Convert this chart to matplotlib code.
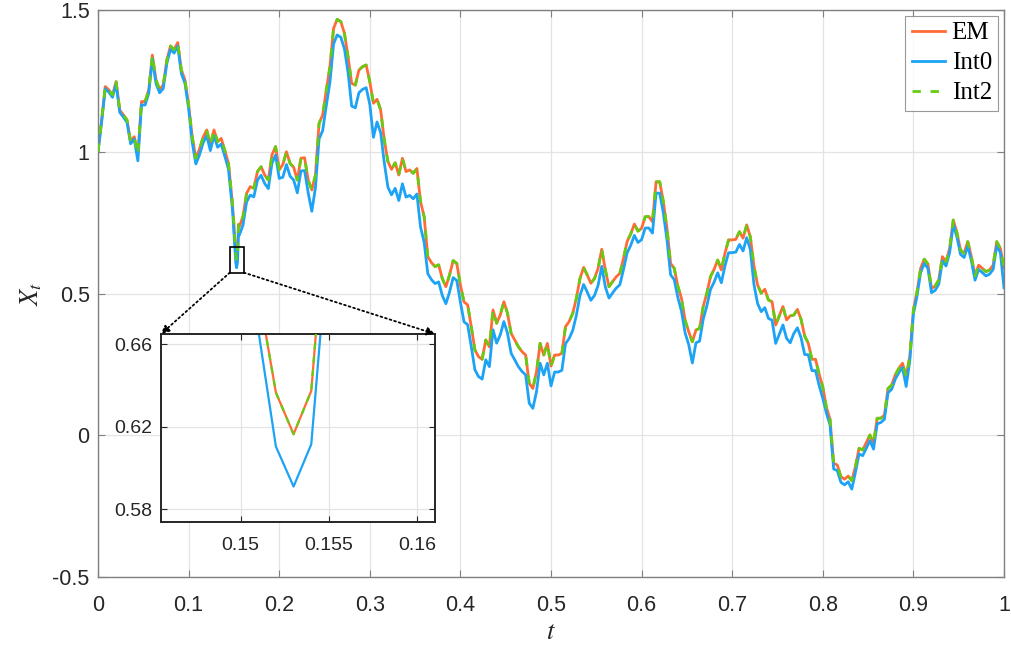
import numpy as np
import matplotlib
matplotlib.use("Agg")
import matplotlib.pyplot as plt
from matplotlib.patches import Rectangle, ConnectionPatch

plt.rcParams['font.family'] = ['Liberation Sans', 'DejaVu Sans']
plt.rcParams['mathtext.fontset'] = 'stix'

# ---------------- data ----------------
t_main = np.linspace(0.0, 1.0, 251)   # uniform time grid (step 0.004)

em = [1.000, 1.112, 1.230, 1.218, 1.200, 1.247, 1.147, 1.130, 1.112, 1.036,
      1.053, 0.990, 1.177, 1.177, 1.218, 1.341, 1.253, 1.220, 1.235, 1.324,
      1.373, 1.360, 1.385, 1.288, 1.253, 1.165, 1.053, 0.977, 1.009, 1.051,
      1.077, 1.024, 1.077, 1.036, 1.047, 1.004, 0.959, 0.830, 0.6365, 0.736,
      0.771, 0.853, 0.877, 0.871, 0.930, 0.947, 0.918, 0.900, 0.989, 1.018,
      0.936, 0.955, 1.000, 0.959, 0.945, 0.900, 0.977, 0.979, 0.900, 0.865,
      0.918, 1.100, 1.130, 1.218, 1.300, 1.435, 1.467, 1.459, 1.418, 1.335,
      1.241, 1.235, 1.288, 1.300, 1.306, 1.247, 1.171, 1.185, 1.147, 1.041,
      0.965, 0.938, 0.961, 0.918, 0.977, 0.930, 0.936, 0.924, 0.941, 0.824,
      0.771, 0.630, 0.609, 0.595, 0.601, 0.553, 0.524, 0.565, 0.616, 0.606,
      0.530, 0.470, 0.460, 0.383, 0.301, 0.277, 0.268, 0.336, 0.312, 0.442,
      0.395, 0.424, 0.471, 0.430, 0.359, 0.336, 0.312, 0.295, 0.283, 0.183,
      0.165, 0.224, 0.324, 0.283, 0.324, 0.244, 0.283, 0.283, 0.289, 0.383,
      0.401, 0.430, 0.483, 0.553, 0.592, 0.565, 0.536, 0.553, 0.589, 0.656,
      0.583, 0.524, 0.542, 0.559, 0.571, 0.624, 0.683, 0.710, 0.745, 0.720,
      0.730, 0.771, 0.771, 0.753, 0.894, 0.894, 0.824, 0.730, 0.606, 0.589,
      0.526, 0.483, 0.406, 0.365, 0.330, 0.371, 0.377, 0.454, 0.501, 0.559,
      0.585, 0.618, 0.583, 0.642, 0.689, 0.689, 0.691, 0.718, 0.695, 0.742,
      0.700, 0.597, 0.530, 0.501, 0.515, 0.477, 0.471, 0.389, 0.421, 0.454,
      0.407, 0.421, 0.424, 0.444, 0.409, 0.350, 0.324, 0.268, 0.268, 0.215,
      0.170, 0.098, 0.056, -0.099, -0.105, -0.146, -0.155, -0.144, -0.160, -0.111,
      -0.046, -0.052, -0.026, 0.001, -0.029, 0.060, 0.060, 0.071, 0.165, 0.177,
      0.213, 0.236, 0.254, 0.207, 0.277, 0.442, 0.506, 0.589, 0.621, 0.604,
      0.518, 0.526, 0.548, 0.630, 0.612, 0.659, 0.759, 0.715, 0.653, 0.642,
      0.683, 0.630, 0.562, 0.600, 0.589, 0.577, 0.583, 0.600, 0.683, 0.659,
      0.589]

int0 = [1.000, 1.104, 1.222, 1.210, 1.192, 1.239, 1.139, 1.122, 1.104, 1.028,
        1.045, 0.968, 1.165, 1.165, 1.206, 1.329, 1.241, 1.208, 1.223, 1.312,
        1.361, 1.348, 1.373, 1.276, 1.241, 1.153, 1.033, 0.957, 0.989, 1.031,
        1.057, 1.004, 1.057, 1.016, 1.027, 0.984, 0.939, 0.810, 0.6103, 0.706,
        0.741, 0.823, 0.847, 0.841, 0.900, 0.917, 0.888, 0.870, 0.959, 0.988,
        0.906, 0.910, 0.955, 0.914, 0.900, 0.855, 0.932, 0.934, 0.855, 0.790,
        0.873, 1.045, 1.075, 1.163, 1.245, 1.380, 1.412, 1.404, 1.363, 1.280,
        1.161, 1.155, 1.208, 1.220, 1.226, 1.167, 1.051, 1.105, 1.067, 0.961,
        0.875, 0.848, 0.871, 0.828, 0.887, 0.840, 0.846, 0.834, 0.851, 0.734,
        0.681, 0.570, 0.549, 0.535, 0.541, 0.493, 0.464, 0.505, 0.556, 0.546,
        0.470, 0.400, 0.390, 0.313, 0.231, 0.207, 0.198, 0.266, 0.242, 0.372,
        0.325, 0.354, 0.401, 0.360, 0.289, 0.266, 0.242, 0.225, 0.213, 0.113,
        0.095, 0.154, 0.254, 0.213, 0.254, 0.174, 0.223, 0.223, 0.229, 0.323,
        0.341, 0.370, 0.423, 0.493, 0.532, 0.505, 0.476, 0.493, 0.529, 0.596,
        0.523, 0.484, 0.502, 0.519, 0.531, 0.584, 0.643, 0.670, 0.705, 0.680,
        0.690, 0.731, 0.731, 0.713, 0.854, 0.854, 0.784, 0.690, 0.566, 0.549,
        0.486, 0.438, 0.361, 0.320, 0.255, 0.326, 0.332, 0.409, 0.456, 0.514,
        0.540, 0.573, 0.538, 0.597, 0.644, 0.644, 0.646, 0.673, 0.650, 0.697,
        0.655, 0.532, 0.465, 0.436, 0.450, 0.412, 0.406, 0.324, 0.356, 0.389,
        0.342, 0.326, 0.359, 0.379, 0.344, 0.285, 0.284, 0.228, 0.228, 0.175,
        0.130, 0.078, 0.036, -0.119, -0.125, -0.166, -0.175, -0.164, -0.190, -0.131,
        -0.066, -0.072, -0.046, -0.019, -0.049, 0.040, 0.045, 0.056, 0.150, 0.162,
        0.198, 0.221, 0.239, 0.172, 0.262, 0.427, 0.491, 0.574, 0.606, 0.589,
        0.503, 0.511, 0.533, 0.615, 0.597, 0.644, 0.744, 0.700, 0.638, 0.627,
        0.668, 0.615, 0.547, 0.585, 0.574, 0.562, 0.568, 0.585, 0.668, 0.644,
        0.520]

# Int2 coincides with EM at the resolution of the picture
int2 = list(em)

# fine-step values around the zoomed minimum (step 0.001)
t_fine = [0.149, 0.150, 0.151, 0.152, 0.153, 0.154, 0.155]
em_fine = [0.790, 0.745, 0.686, 0.6365, 0.6163, 0.6373, 0.743]
int0_fine = [0.770, 0.715, 0.667, 0.6103, 0.5909, 0.6114, 0.714]
int2_fine = [0.790, 0.745, 0.686, 0.6365, 0.6163, 0.6373, 0.743]

labels = ['EM', 'Int0', 'Int2']
colors = ['#FF6B35', '#1CA3F5', '#66CC11']

xticks = [0, 0.1, 0.2, 0.3, 0.4, 0.5, 0.6, 0.7, 0.8, 0.9, 1]
xticklabels = ['0', '0.1', '0.2', '0.3', '0.4', '0.5', '0.6', '0.7', '0.8', '0.9', '1']
yticks = [-0.5, 0, 0.5, 1, 1.5]
yticklabels = ['-0.5', '0', '0.5', '1', '1.5']
in_xticks = [0.15, 0.155, 0.16]
in_xticklabels = ['0.15', '0.155', '0.16']
in_yticks = [0.58, 0.62, 0.66]
in_yticklabels = ['0.58', '0.62', '0.66']
zoom_x = (0.1455, 0.1610)
zoom_y = (0.5737, 0.6649)

# merge coarse and fine samples
def merged(coarse, fine):
    tc = np.asarray(t_main)
    vc = np.asarray(coarse, dtype=float)
    keep = (tc < t_fine[0] - 1e-9) | (tc > t_fine[-1] + 1e-9)
    tt = np.concatenate([tc[keep], np.asarray(t_fine)])
    vv = np.concatenate([vc[keep], np.asarray(fine)])
    order = np.argsort(tt)
    return tt[order], vv[order]

series = [merged(em, em_fine), merged(int0, int0_fine), merged(int2, int2_fine)]

# ---------------- figure ----------------
fig = plt.figure(figsize=(10.11, 6.48), dpi=100)
ax = fig.add_axes([98/1011, 1-577/648, 906/1011, 567/648])

tick_color = '#262626'
frame_color = '#808080'
grid_color = '#e3e3e3'

for i, (tt, vv) in enumerate(series):
    if i == 2:
        ax.plot(tt, vv, color=colors[i], lw=2.0, dashes=(3, 3.5), label=labels[i], zorder=3)
    else:
        ax.plot(tt, vv, color=colors[i], lw=2.0, label=labels[i], zorder=2 + i * 0.1)

ax.set_xlim(0, 1)
ax.set_ylim(-0.5, 1.5)
ax.set_xticks(xticks)
ax.set_xticklabels(xticklabels)
ax.set_yticks(yticks)
ax.set_yticklabels(yticklabels)
ax.grid(True, color=grid_color, lw=0.9)
ax.set_axisbelow(True)
ax.tick_params(axis='both', direction='in', length=5, width=0.8, colors=frame_color,
               labelcolor=tick_color, labelsize=15.5, top=True, right=True)
ax.tick_params(axis='x', pad=13)
ax.tick_params(axis='y', pad=6)
for s in ax.spines.values():
    s.set_color(frame_color)
    s.set_linewidth(1.0)

ax.set_xlabel('$t$', fontsize=19, color=tick_color, labelpad=3)
ax.set_ylabel('$X_t$', fontsize=19, color=tick_color, labelpad=6)

leg = ax.legend(loc='upper right', bbox_to_anchor=(0.9935, 0.99),
                prop={'family': 'Liberation Serif', 'size': 18},
                frameon=True, fancybox=False, edgecolor='#7f7f7f',
                handlelength=1.35, handletextpad=0.25, labelspacing=0.3,
                borderpad=0.25, borderaxespad=0.0)
leg.get_frame().set_linewidth(0.8)

# zoom rectangle
rect = Rectangle((zoom_x[0], zoom_y[0]), zoom_x[1] - zoom_x[0], zoom_y[1] - zoom_y[0],
                 fill=False, ec='black', lw=1.2, zorder=5)
ax.add_patch(rect)

# ---------------- inset ----------------
axin = fig.add_axes([161/1011, 1-522/648, 274/1011, 188/648])
for i, (tt, vv) in enumerate(series):
    if i == 2:
        axin.plot(tt, vv, color=colors[i], lw=1.6, dashes=(3, 3), zorder=3)
    else:
        axin.plot(tt, vv, color=colors[i], lw=1.6, zorder=2 + i * 0.1)
axin.set_xlim(*zoom_x)
axin.set_ylim(*zoom_y)
axin.set_xticks(in_xticks)
axin.set_xticklabels(in_xticklabels)
axin.set_yticks(in_yticks)
axin.set_yticklabels(in_yticklabels)
axin.grid(True, color=grid_color, lw=0.9)
axin.set_axisbelow(True)
axin.tick_params(direction='in', length=4, width=0.8, colors='#262626',
                 labelsize=14, top=True, right=True)
axin.tick_params(axis='x', pad=11)
axin.tick_params(axis='y', pad=6)
for s in axin.spines.values():
    s.set_color('#262626')
    s.set_linewidth(1.4)

# connection lines
for xa, xb in [(zoom_x[0], 0.0), (zoom_x[1], 1.0)]:
    con = ConnectionPatch(xyA=(xa, zoom_y[0]), coordsA=ax.transData,
                          xyB=(xb, 1.0), coordsB=axin.transAxes,
                          arrowstyle='-|>', linestyle=':', color='black',
                          lw=1.3, mutation_scale=12, zorder=6)
    fig.add_artist(con)

fig.savefig('out.png', dpi=100)
